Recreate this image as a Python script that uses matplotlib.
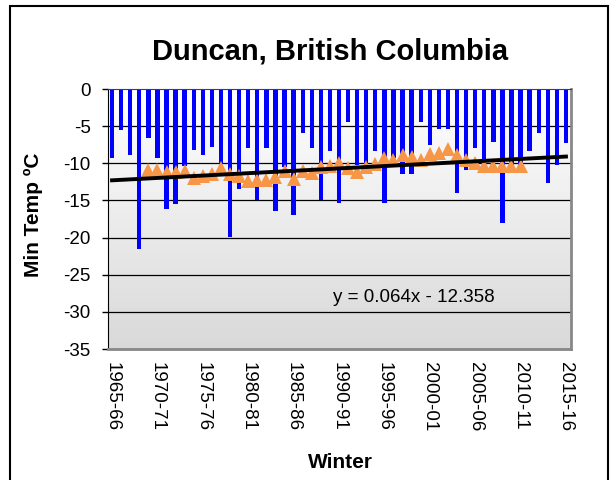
import numpy as np
import matplotlib
matplotlib.use("Agg")
import matplotlib.pyplot as plt
from matplotlib.patches import Rectangle

plt.rcParams["font.family"] = ["Liberation Sans", "DejaVu Sans"]

# minimum winter temperature, 1965-66 .. 2015-16
min_temp = [-9.3, -5.5, -8.9, -21.6, -6.6, -9.3, -16.1, -15.5, -10.3, -8.2,
            -8.9, -7.8, -9.9, -19.9, -13.4, -8.0, -14.9, -8.0, -16.4, -10.5,
            -17.0, -5.9, -8.0, -14.9, -8.4, -15.4, -4.5, -10.2, -10.0, -8.4,
            -15.4, -9.3, -11.5, -11.5, -4.5, -7.5, -5.4, -5.4, -14.0, -10.9,
            -8.0, -10.9, -7.2, -18.0, -10.9, -10.2, -8.4, -5.9, -12.7, -10.2,
            -7.3]

# orange triangles (running mean), first point at winter index 4
avg_start = 4
avg_temp = [-10.9, -10.9, -11.2, -11.2, -11.0, -12.0, -11.7, -11.5, -10.7, -11.4,
            -11.7, -12.4, -12.3, -12.3, -11.8, -11.0, -12.1, -11.0, -11.3, -10.5,
            -10.3, -10.0, -10.6, -11.2, -10.5, -10.1, -9.3, -9.5, -8.9, -9.2,
            -9.5, -8.8, -8.6, -8.1, -8.9, -9.6, -9.9, -10.4, -10.3, -10.4,
            -10.4, -10.3]

# linear trend from the chart's label
slope = 0.064
intercept = -12.358

tick_labels = ["1965-66", "1970-71", "1975-76", "1980-81", "1985-86", "1990-91",
               "1995-96", "2000-01", "2005-06", "2010-11", "2015-16"]
y_ticks = [0, -5, -10, -15, -20, -25, -30, -35]

n = len(min_temp)
x = np.arange(n)

fig = plt.figure(figsize=(6.11, 4.80), dpi=100)
ax = fig.add_axes([107.5 / 611, 1 - 349 / 480, 463 / 611, 260 / 480])

# background gradient
grad = np.linspace(1, 0, 256).reshape(-1, 1)
ax.imshow(grad, extent=[-0.5, n - 0.5, -35, 0], aspect="auto",
          cmap=matplotlib.colors.LinearSegmentedColormap.from_list("g", ["#d9d9d9", "#ffffff"]),
          zorder=0, origin="upper", vmin=0, vmax=1)

for v in y_ticks[1:]:
    ax.axhline(v, color="black", lw=0.9, zorder=1)

ax.bar(x, min_temp, width=0.48, color="#0000ff", zorder=2)

xa = np.arange(avg_start, avg_start + len(avg_temp))
ax.plot(xa, avg_temp, linestyle="none", marker="^", ms=10, color="#f79646",
        markeredgewidth=0, zorder=3)

xt = np.array([0, n - 1])
ax.plot(xt, slope * (xt + 1) + intercept, color="black", lw=2.8, zorder=4)

ax.set_xlim(-0.5, n - 0.5)
ax.set_ylim(-35, 0)
ax.set_yticks(y_ticks)
ax.set_yticklabels([str(v) for v in y_ticks], fontsize=13.5)
ax.set_xticks(np.arange(0, n, 5))
ax.set_xticklabels(tick_labels, rotation=270, fontsize=13.5, va="top", ha="center")
ax.tick_params(axis="x", length=0, pad=9)
ax.tick_params(axis="y", length=4, width=1, pad=8)

ax.spines["left"].set_color("black")
ax.spines["top"].set_color("#404040")
ax.spines["right"].set_color("#888888")
ax.spines["right"].set_linewidth(2)
ax.spines["bottom"].set_color("#888888")
ax.spines["bottom"].set_linewidth(2)

fig.text(330 / 611, 1 - 52 / 480, "Duncan, British Columbia", fontsize=21,
         fontweight="bold", ha="center", va="center")
fig.text(33 / 611, 1 - 215 / 480, "Min Temp ºC", fontsize=15, fontweight="bold",
         rotation=90, ha="center", va="center")
fig.text(340 / 611, 1 - 463 / 480, "Winter", fontsize=15, fontweight="bold",
         ha="center", va="center")
fig.text(333 / 611, 1 - 297 / 480, "y = 0.064x - 12.358", fontsize=13.5,
         ha="left", va="center")

fig.patches.append(Rectangle((10 / 611, -0.05), 598 / 611, 1.05 - 6 / 480,
                             transform=fig.transFigure, fill=False,
                             edgecolor="black", lw=1.5))

fig.savefig("out.png", dpi=100)
